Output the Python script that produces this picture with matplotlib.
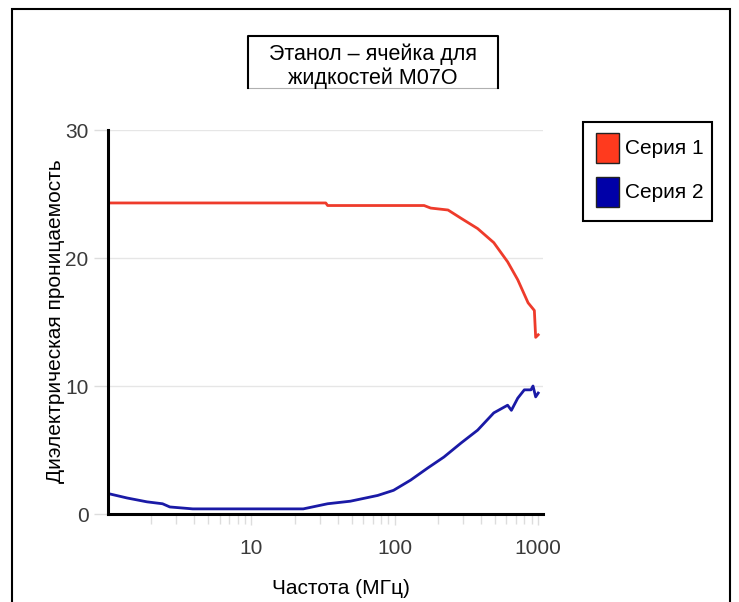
import matplotlib
matplotlib.use("Agg")
import matplotlib.pyplot as plt
from matplotlib.patches import Rectangle
from matplotlib.lines import Line2D
from matplotlib.ticker import LogLocator, NullFormatter

plt.rcParams['font.family'] = ['Liberation Sans', 'DejaVu Sans']

title_text = "Этанол – ячейка для\nжидкостей М07О"
x_label = "Частота (МГц)"
y_label = "Диэлектрическая проницаемость"
series_names = ["Серия 1", "Серия 2"]

freq1 = [1, 33, 34, 160, 178, 235, 290, 378, 490, 612, 720, 850, 940, 960, 1000]
eps1 = [24.3, 24.3, 24.1, 24.1, 23.9, 23.75, 23.1, 22.3, 21.2, 19.7, 18.3, 16.5, 15.9, 13.8, 14.0]

freq2 = [1, 1.36, 1.87, 2.4, 2.7, 3.9, 23, 34, 49, 76, 98, 129, 170, 220, 290,
         378, 490, 612, 650, 720, 800, 890, 920, 960, 1000]
eps2 = [1.6, 1.25, 0.95, 0.8, 0.55, 0.4, 0.4, 0.8, 1.0, 1.45, 1.85, 2.65, 3.6, 4.45, 5.55,
        6.55, 7.9, 8.5, 8.1, 9.05, 9.7, 9.7, 10.0, 9.15, 9.45]

y_ticks = [0, 10, 20, 30]
x_ticks = [10, 100, 1000]

red = "#ee3b2b"
blue = "#1a1aa6"

W, H = 739, 602
fig = plt.figure(figsize=(W / 100, H / 100), dpi=100)

def fx(px):
    return px / W

def fy(py):
    return 1 - py / H

ax = fig.add_axes([fx(108), fy(514), fx(543) - fx(108), fy(130) - fy(514)])
ax.plot(freq1, eps1, color=red, lw=2)
ax.plot(freq2, eps2, color=blue, lw=2)
ax.set_xscale('log')
ax.set_xlim(1, 1080)
ax.set_ylim(0, 30)
ax.set_yticks(y_ticks)
ax.set_xticks(x_ticks)
ax.set_xticklabels([str(v) for v in x_ticks])
ax.xaxis.set_minor_locator(LogLocator(base=10, subs=range(2, 10)))
ax.xaxis.set_minor_formatter(NullFormatter())
ax.grid(axis='y', color='#e6e6e6', lw=1)
ax.set_axisbelow(True)
for s in ['top', 'right']:
    ax.spines[s].set_visible(False)
ax.spines['left'].set_linewidth(2.2)
ax.spines['bottom'].set_linewidth(2.2)
ax.tick_params(axis='y', length=10, color='#dddddd', width=1, labelsize=15, labelcolor='#3a3a3a', pad=4)
ax.tick_params(axis='x', which='major', length=8, color='#dddddd', width=1, labelsize=15,
               labelcolor='#3a3a3a', pad=10)
ax.tick_params(axis='x', which='minor', length=7, color='#dddddd', width=1)
ax.set_xlabel(x_label, fontsize=15)
ax.set_ylabel(y_label, fontsize=15)
ax.xaxis.set_label_coords((341 - 108) / 435, -(588 - 514) / 384)
ax.yaxis.set_label_coords((56 - 108) / 435, (514 - 321) / 384)
ax.xaxis.label.set_va('center')
ax.yaxis.label.set_va('center')

# outer border
fig.add_artist(Rectangle((fx(12), -0.05), fx(730) - fx(12), fy(9) + 0.05,
                         transform=fig.transFigure, fill=False, ec='black', lw=1.5))
# title box (bottom edge only faint, as in the reference)
bx0, bx1, by0, by1 = fx(248), fx(498), fy(36), fy(88)
fig.add_artist(Line2D([bx0, bx1], [by1, by1], transform=fig.transFigure, color='#b0b0b0', lw=0.8))
fig.add_artist(Line2D([bx0, bx0, bx1, bx1], [by1, by0, by0, by1],
                      transform=fig.transFigure, color='black', lw=1.5))
fig.text(fx(373), fy(66), title_text, ha='center', va='center', fontsize=15.5, linespacing=1.18)

# legend box
fig.add_artist(Rectangle((fx(583), fy(221)), fx(712) - fx(583), fy(122) - fy(221),
                         transform=fig.transFigure, fill=False, ec='black', lw=1.5))
for i, col in enumerate(["#ff3a1e", "#0000a8"]):
    top = 133 + i * 44
    fig.add_artist(Rectangle((fx(596), fy(top + 30)), fx(619) - fx(596), fy(top) - fy(top + 30),
                             transform=fig.transFigure, fc=col, ec='#222222', lw=1))
    fig.text(fx(625), fy(top + 16), series_names[i], ha='left', va='center', fontsize=15)

fig.savefig("out.png", dpi=100)
